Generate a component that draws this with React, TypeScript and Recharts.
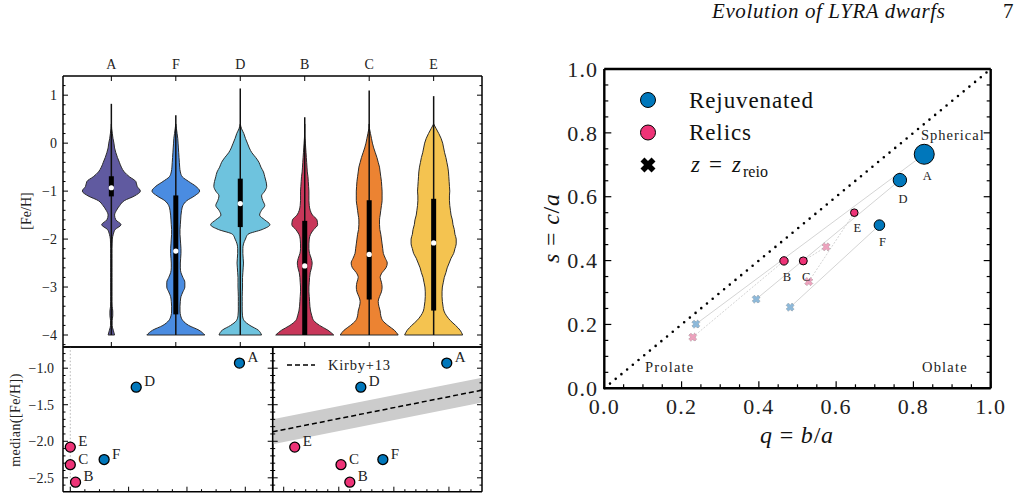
import React from "react";
import { ComposedChart, Area, Line, Scatter, XAxis, YAxis, ReferenceLine, ReferenceDot } from "recharts";

const FONT = "'Liberation Serif', 'DejaVu Serif', serif";
const MINUS = "\u2212";
const BLUE = "#0077bb";
const PINK = "#ee3377";

// Violin panel: order along the top axis
const violinNames = ["A", "F", "D", "B", "C", "E"];
const violinColors = ["#605aa0", "#4a8ce1", "#6ec3de", "#c8375a", "#ec8332", "#f4c350"];

// [Fe/H] levels where the violin outlines are sampled
const fehLevels = [
	-4.0, -3.9, -3.8, -3.7, -3.6, -3.5, -3.4, -3.3, -3.2, -3.1,
	-3.0, -2.9, -2.8, -2.7, -2.6, -2.5, -2.4, -2.3, -2.2, -2.1,
	-2.0, -1.9, -1.8, -1.7, -1.6, -1.5, -1.4, -1.3, -1.2, -1.1,
	-1.0, -0.9, -0.8, -0.7, -0.6, -0.5, -0.4, -0.3, -0.2, -0.1,
	0.0, 0.1, 0.2, 0.3, 0.4,
];

// half widths of each violin at those levels (slot spacing = 1)
const widthA = [
	0.05, 0.03, 0.012, 0.012, 0.022, 0.022, 0.012, 0.01, 0.01, 0.01,
	0.01, 0.01, 0.01, 0.01, 0.01, 0.01, 0.01, 0.01, 0.01, 0.012,
	0.015, 0.03, 0.06, 0.15, 0.07, 0.05, 0.08, 0.13, 0.2, 0.36,
	0.45, 0.4, 0.38, 0.28, 0.2, 0.155, 0.125, 0.095, 0.07, 0.05,
	0.04, 0.025, 0.015, 0.005, 0,
];
const widthF = [
	0.45, 0.36, 0.2, 0.11, 0.075, 0.065, 0.065, 0.07, 0.08, 0.11,
	0.14, 0.14, 0.11, 0.08, 0.07, 0.07, 0.075, 0.08, 0.08, 0.075,
	0.07, 0.065, 0.065, 0.07, 0.075, 0.08, 0.09, 0.11, 0.17, 0.29,
	0.37, 0.31, 0.2, 0.1, 0.07, 0.06, 0.055, 0.05, 0.045, 0.04,
	0.035, 0.03, 0.02, 0.01, 0,
];
const widthD = [
	0.33, 0.28, 0.15, 0.06, 0.035, 0.03, 0.03, 0.03, 0.03, 0.032,
	0.035, 0.035, 0.035, 0.04, 0.045, 0.05, 0.045, 0.04, 0.04, 0.05,
	0.08, 0.12, 0.34, 0.46, 0.38, 0.3, 0.33, 0.38, 0.35, 0.33,
	0.38, 0.41, 0.4, 0.38, 0.36, 0.32, 0.29, 0.24, 0.18, 0.14,
	0.11, 0.08, 0.055, 0.02, 0,
];
const widthB = [
	0.45, 0.36, 0.23, 0.14, 0.11, 0.09, 0.08, 0.075, 0.07, 0.065,
	0.065, 0.07, 0.075, 0.085, 0.105, 0.115, 0.1, 0.075, 0.065, 0.065,
	0.07, 0.09, 0.14, 0.2, 0.19, 0.12, 0.085, 0.07, 0.065, 0.065,
	0.065, 0.06, 0.055, 0.05, 0.04, 0.035, 0.03, 0.025, 0.02, 0.015,
	0.01, 0.005, 0, 0, 0,
];
const widthC = [
	0.45, 0.39, 0.29, 0.21, 0.18, 0.17, 0.15, 0.14, 0.16, 0.19,
	0.2, 0.19, 0.17, 0.2, 0.26, 0.28, 0.25, 0.22, 0.21, 0.2,
	0.19, 0.18, 0.165, 0.16, 0.16, 0.17, 0.18, 0.19, 0.2, 0.2,
	0.2, 0.195, 0.19, 0.18, 0.17, 0.16, 0.14, 0.12, 0.095, 0.07,
	0.05, 0.035, 0.02, 0.005, 0,
];
const widthE = [
	0.45, 0.41, 0.34, 0.26, 0.2, 0.16, 0.145, 0.135, 0.13, 0.13,
	0.135, 0.15, 0.165, 0.19, 0.21, 0.24, 0.27, 0.31, 0.33, 0.35,
	0.35, 0.33, 0.32, 0.3, 0.29, 0.27, 0.26, 0.25, 0.245, 0.245,
	0.25, 0.245, 0.24, 0.235, 0.23, 0.22, 0.205, 0.19, 0.17, 0.155,
	0.14, 0.115, 0.08, 0.04, 0,
];
const violinWidths = [widthA, widthF, widthD, widthB, widthC, widthE];

// whiskers and quartiles, same order as violinNames
const fehMin = [-4.0, -4.0, -4.0, -4.0, -4.0, -4.0];
const fehMax = [0.82, 0.58, 1.14, 0.54, 1.1, 0.98];
const fehQ1 = [-1.11, -3.57, -1.75, -4.0, -3.26, -3.49];
const fehQ3 = [-0.69, -1.09, -0.74, -1.62, -1.19, -1.16];

// per-galaxy summary values
const galaxyNames = ["A", "B", "C", "D", "E", "F"];
const rejuvenatedNames = ["A", "D", "F"];
const medianFeH = [-0.93, -2.56, -2.32, -1.26, -2.08, -2.25];
const xLeft = [2.9, 0.09, 0.0, 1.13, 0.0, 0.58];
const logMstar = [6.98, 6.1, 6.02, 6.2, 5.6, 6.4];
const qFinal = [0.828, 0.465, 0.515, 0.765, 0.647, 0.712];
const sFinal = [0.733, 0.399, 0.399, 0.652, 0.55, 0.511];
const qReio = [0.237, 0.229, 0.574, 0.393, 0.529, 0.481];
const sReio = [0.201, 0.16, 0.443, 0.279, 0.334, 0.254];

// Kirby+13 relation, end points and scatter
const kirbyLogM = [5.4, 7.3];
const kirbyFeH = [-1.87, -1.3];
const kirbyScatter = 0.17;

const markerRadius: Record<string, number> = { A: 10, B: 4.2, C: 4, D: 6.7, E: 3.8, F: 5.3 };

const isRejuv = (n: string) => rejuvenatedNames.includes(n);
const colorOf = (n: string) => (isRejuv(n) ? BLUE : PINK);

const violinRows = fehLevels.map((feh, i) => {
	const row: Record<string, any> = { feh };
	violinNames.forEach((name, k) => {
		row[name] = [k - violinWidths[k][i], k + violinWidths[k][i]];
	});
	return row;
});
const violinMedian = violinNames.map((n) => medianFeH[galaxyNames.indexOf(n)]);

const leftRows = galaxyNames.map((name, i) => ({ name, x: xLeft[i], feh: medianFeH[i] }));
const massRows = galaxyNames.map((name, i) => ({ name, m: logMstar[i], feh: medianFeH[i] }));
const kirbyRows = kirbyLogM.map((m, i) => ({
	m,
	feh: kirbyFeH[i],
	band: [kirbyFeH[i] - kirbyScatter, kirbyFeH[i] + kirbyScatter],
}));
const finalRows = galaxyNames.map((name, i) => ({ name, q: qFinal[i], s: sFinal[i] }));
const reioRows = galaxyNames.map((name, i) => ({ name, q: qReio[i], s: sReio[i] }));

const steps = (from: number, to: number, step: number) => {
	const out: number[] = [];
	const n = Math.round((to - from) / step);
	for (let i = 0; i <= n; i++) out.push(Math.round((from + i * step) * 1000) / 1000);
	return out;
};

const fmt = (digits: number) => (v: number) => (v < 0 ? MINUS : "") + Math.abs(v).toFixed(digits);

type Side = "left" | "right" | "top" | "bottom";
interface TickStyle {
	side: Side;
	major: number;
	majorLen: number;
	minorLen: number;
	label?: (v: number) => string;
	fontSize?: number;
	spacing?: number;
	gap?: number;
	width?: number;
}

const isMultiple = (v: number, step: number) => Math.abs(v / step - Math.round(v / step)) < 1e-6;

// inward pointing ticks, labels only on major ticks
const makeTick = (st: TickStyle) => (props: any) => {
	const { x, y, payload } = props;
	const v = Number(payload.value);
	const major = isMultiple(v, st.major);
	const len = major ? st.majorLen : st.minorLen;
	const dx = st.side === "left" ? len : st.side === "right" ? -len : 0;
	const dy = st.side === "top" ? len : st.side === "bottom" ? -len : 0;
	const gap = st.gap ?? 6;
	const text = { fontSize: st.fontSize ?? 14, fontFamily: FONT, fill: "#222", letterSpacing: st.spacing ?? 0 };
	let label: React.ReactNode = null;
	if (st.label && major) {
		const txt = st.label(v);
		if (st.side === "left")
			label = <text x={x - gap} y={y} dy="0.35em" textAnchor="end" {...text}>{txt}</text>;
		else if (st.side === "right")
			label = <text x={x + gap} y={y} dy="0.35em" textAnchor="start" {...text}>{txt}</text>;
		else if (st.side === "top")
			label = <text x={x} y={y - gap} textAnchor="middle" {...text}>{txt}</text>;
		else
			label = <text x={x} y={y + gap} dy="0.75em" textAnchor="middle" {...text}>{txt}</text>;
	}
	return (
		<g>
			<line x1={x} y1={y} x2={x + dx} y2={y + dy} stroke="#000" strokeWidth={st.width ?? 1} />
			{label}
		</g>
	);
};

const crossPath = (cx: number, cy: number, L: number, w: number) => {
	const pts = [
		[-w, -L], [w, -L], [w, -w], [L, -w], [L, w], [w, w],
		[w, L], [-w, L], [-w, w], [-L, w], [-L, -w], [-w, -w],
	];
	return "M" + pts.map(([a, b]) => `${cx + (a - b) / Math.SQRT2},${cy + (a + b) / Math.SQRT2}`).join("L") + "Z";
};

const noMark = () => <g />;

// circle with its name up and to the right (metallicity panels)
const namedDot = (props: any) => {
	const { cx, cy, payload } = props;
	return (
		<g>
			<circle cx={cx} cy={cy} r={5} fill={colorOf(payload.name)} stroke="#000" strokeWidth={1.3} />
			<text x={cx + 8} y={cy - 1} fontSize={15} fontFamily={FONT} fill="#222">{payload.name}</text>
		</g>
	);
};

// sized circle with its name below (shape panel)
const shapeDot = (props: any) => {
	const { cx, cy, payload } = props;
	const r = markerRadius[payload.name];
	return (
		<g>
			<circle cx={cx} cy={cy} r={r} fill={colorOf(payload.name)} stroke="#000" strokeWidth={1} />
			<text x={cx + 3} y={cy + r + 16} textAnchor="middle" fontSize={12.5} fontFamily={FONT} fill="#222">{payload.name}</text>
		</g>
	);
};

const reioCross = (props: any) => {
	const { cx, cy, payload } = props;
	const fill = isRejuv(payload.name) ? "#8db9da" : "#eda2bd";
	return <path d={crossPath(cx, cy, 4.2, 1.6)} fill={fill} stroke="#8a8a8a" strokeWidth={0.7} strokeDasharray="1 1" />;
};

const frame = { stroke: "#000", strokeWidth: 1.5 };
const thickFrame = { stroke: "#000", strokeWidth: 2.4 };

const violinFehTicks = steps(-4.2, 1.2, 0.2);
const medianTicks = steps(-2.6, -0.8, 0.1);
const leftXTicks = steps(0, 3.25, 0.25);
const massTicks = steps(5.5, 7.2, 0.1);
const unitTicks = steps(0, 1, 0.05);
const catTicks = [0, 1, 2, 3, 4, 5];

const ViolinPanel = () => (
	<ComposedChart layout="vertical" width={500} height={350} data={violinRows} margin={{ top: 46, right: 8, bottom: 0, left: 0 }}>
		<XAxis xAxisId="cat" orientation="top" type="number" domain={[-0.75, 5.75]} allowDataOverflow ticks={catTicks} interval={0} height={30} tickSize={0} tickMargin={0} tickLine={false} axisLine={frame} tick={makeTick({ side: "top", major: 1, majorLen: 5, minorLen: 5, label: (v) => violinNames[v], gap: 7.5, fontSize: 14 })} />
		<XAxis xAxisId="catB" orientation="bottom" type="number" domain={[-0.75, 5.75]} allowDataOverflow ticks={catTicks} interval={0} height={3} tickSize={0} tickMargin={0} tickLine={false} axisLine={frame} tick={makeTick({ side: "bottom", major: 1, majorLen: 5, minorLen: 5 })} />
		<YAxis yAxisId="feh" type="number" dataKey="feh" reversed domain={[-4.25, 1.4]} allowDataOverflow ticks={violinFehTicks} interval={0} width={63} tickSize={0} tickMargin={0} tickLine={false} axisLine={frame} tick={makeTick({ side: "left", major: 1, majorLen: 5, minorLen: 2.5, label: fmt(0), gap: 6, fontSize: 14 })} />
		<YAxis yAxisId="fehR" orientation="right" type="number" dataKey="feh" reversed domain={[-4.25, 1.4]} allowDataOverflow ticks={violinFehTicks} interval={0} width={10} tickSize={0} tickMargin={0} tickLine={false} axisLine={frame} tick={makeTick({ side: "right", major: 1, majorLen: 5, minorLen: 2.5 })} />
		{violinNames.map((name, k) => (
			<Area key={name} xAxisId="cat" yAxisId="feh" dataKey={name} type="monotone" fill={violinColors[k]} fillOpacity={1} stroke="#2b2b2b" strokeWidth={1} dot={false} activeDot={false} isAnimationActive={false} />
		))}
		{/* flat bottom edge of each violin at the lowest sampled level */}
		{violinNames.map((name, k) => (
			<ReferenceLine key={"base" + name} xAxisId="cat" yAxisId="feh" segment={[{ x: k - violinWidths[k][0], y: fehLevels[0] }, { x: k + violinWidths[k][0], y: fehLevels[0] }]} stroke="#2b2b2b" strokeWidth={1} />
		))}
		{violinNames.map((name, k) => (
			<ReferenceLine key={"w" + name} xAxisId="cat" yAxisId="feh" segment={[{ x: k, y: fehMin[k] }, { x: k, y: fehMax[k] }]} stroke="#111" strokeWidth={1.5} />
		))}
		{violinNames.map((name, k) => (
			<ReferenceLine key={"q" + name} xAxisId="cat" yAxisId="feh" segment={[{ x: k, y: fehQ1[k] }, { x: k, y: fehQ3[k] }]} stroke="#000" strokeWidth={5} />
		))}
		{violinNames.map((name, k) => (
			<ReferenceDot key={"m" + name} xAxisId="cat" yAxisId="feh" x={k} y={violinMedian[k]} r={2.6} fill="#fff" stroke="none" />
		))}
	</ComposedChart>
);

const medianAxesY = (leftLabels: boolean) => [
	<YAxis key="yl" yAxisId="l" type="number" dataKey="feh" domain={[-2.69, -0.71]} allowDataOverflow ticks={medianTicks} interval={0} width={leftLabels ? 63 : 12.7} tickSize={0} tickMargin={0} tickLine={false} axisLine={frame} tick={makeTick({ side: "left", major: 0.5, majorLen: 5, minorLen: 2.5, label: leftLabels ? fmt(1) : undefined, gap: 9, fontSize: 14 })} />,
	<YAxis key="yr" yAxisId="r" orientation="right" type="number" domain={[-2.69, -0.71]} allowDataOverflow ticks={medianTicks} interval={0} width={1} tickSize={0} tickMargin={0} tickLine={false} axisLine={frame} tick={makeTick({ side: "right", major: 0.5, majorLen: 5, minorLen: 2.5 })} />,
];

const LeftMedianPanel = () => (
	<ComposedChart width={280} height={158} margin={{ top: 6, right: 6.3, bottom: 5.3, left: 0 }}>
		<XAxis xAxisId="b" dataKey="x" type="number" domain={[-0.125, 3.47]} allowDataOverflow ticks={leftXTicks} interval={0} height={1} tickSize={0} tickMargin={0} tickLine={false} axisLine={frame} tick={makeTick({ side: "bottom", major: 1, majorLen: 5, minorLen: 2.5 })} />
		<XAxis xAxisId="t" orientation="top" type="number" domain={[-0.125, 3.47]} allowDataOverflow ticks={leftXTicks} interval={0} height={1} tickSize={0} tickMargin={0} tickLine={false} axisLine={frame} tick={makeTick({ side: "top", major: 1, majorLen: 5, minorLen: 2.5 })} />
		{medianAxesY(true)}
		<ReferenceLine xAxisId="b" yAxisId="l" x={0} stroke="#b5b5b5" strokeWidth={1} strokeDasharray="1.5 2" />
		<Scatter xAxisId="b" yAxisId="l" data={leftRows} shape={namedDot} isAnimationActive={false} />
	</ComposedChart>
);

const MassMedianPanel = () => (
	<ComposedChart width={240} height={158} data={kirbyRows} margin={{ top: 6, right: 17, bottom: 5.3, left: 0 }}>
		<XAxis xAxisId="b" dataKey="m" type="number" domain={[5.4, 7.3]} allowDataOverflow ticks={massTicks} interval={0} height={1} tickSize={0} tickMargin={0} tickLine={false} axisLine={frame} tick={makeTick({ side: "bottom", major: 0.5, majorLen: 5, minorLen: 2.5 })} />
		<XAxis xAxisId="t" orientation="top" type="number" domain={[5.4, 7.3]} allowDataOverflow ticks={massTicks} interval={0} height={1} tickSize={0} tickMargin={0} tickLine={false} axisLine={frame} tick={makeTick({ side: "top", major: 0.5, majorLen: 5, minorLen: 2.5 })} />
		{medianAxesY(false)}
		<Area xAxisId="b" yAxisId="l" dataKey="band" type="linear" fill="#cccccc" fillOpacity={1} stroke="none" dot={false} activeDot={false} isAnimationActive={false} />
		<Line xAxisId="b" yAxisId="l" dataKey="feh" type="linear" stroke="#000" strokeWidth={1.5} strokeDasharray="5 3" dot={false} activeDot={false} isAnimationActive={false} />
		<Scatter xAxisId="b" yAxisId="l" data={massRows} shape={namedDot} isAnimationActive={false} />
	</ComposedChart>
);

const unitTick = (side: Side, withLabel: boolean) =>
	makeTick({ side, major: 0.2, majorLen: 7, minorLen: 4, width: 1.2, label: withLabel ? fmt(1) : undefined, fontSize: 22, spacing: 1.2, gap: side === "bottom" ? 9 : 6 });

const ShapePanel = () => (
	<ComposedChart width={499} height={458} margin={{ top: 28, right: 27.3, bottom: 49.7, left: 0 }}>
		<XAxis xAxisId="b" dataKey="q" type="number" domain={[0, 1]} allowDataOverflow ticks={unitTicks} interval={0} height={60} tickSize={0} tickMargin={0} tickLine={false} axisLine={thickFrame} tick={unitTick("bottom", true)} />
		<XAxis xAxisId="t" orientation="top" type="number" domain={[0, 1]} allowDataOverflow ticks={unitTicks} interval={0} height={1} tickSize={0} tickMargin={0} tickLine={false} axisLine={thickFrame} tick={unitTick("top", false)} />
		<YAxis yAxisId="l" dataKey="s" type="number" domain={[0, 1]} allowDataOverflow ticks={unitTicks} interval={0} width={84.3} tickSize={0} tickMargin={0} tickLine={false} axisLine={thickFrame} tick={unitTick("left", true)} />
		<YAxis yAxisId="r" orientation="right" type="number" domain={[0, 1]} allowDataOverflow ticks={unitTicks} interval={0} width={1} tickSize={0} tickMargin={0} tickLine={false} axisLine={thickFrame} tick={unitTick("right", false)} />
		{galaxyNames.map((name, i) => (
			<Scatter
				key={"path" + name}
				xAxisId="b"
				yAxisId="l"
				data={[reioRows[i], finalRows[i]]}
				line={{ stroke: "#cfcfcf", strokeWidth: 0.9, strokeDasharray: isRejuv(name) ? undefined : "2 1.5" }}
				shape={noMark}
				isAnimationActive={false}
			/>
		))}
		<ReferenceLine xAxisId="b" yAxisId="l" segment={[{ x: 0, y: 0 }, { x: 1, y: 1 }]} stroke="#000" strokeWidth={2.6} strokeDasharray="0 7.4" strokeLinecap="round" ifOverflow="visible" />
		<Scatter xAxisId="b" yAxisId="l" data={reioRows} shape={reioCross} isAnimationActive={false} />
		<Scatter xAxisId="b" yAxisId="l" data={finalRows} shape={shapeDot} isAnimationActive={false} />
	</ComposedChart>
);

const Overlay = () => (
	<svg width={1019} height={498} style={{ position: "absolute", left: 0, top: 0, pointerEvents: "none" }} fontFamily={FONT}>
		<text x={712} y={18} fontSize={21} letterSpacing={0.6} fontStyle="italic" fill="#111">Evolution of LYRA dwarfs</text>
		<text x={1003} y={18} fontSize={21} fill="#111">7</text>

		<text transform="translate(31,211) rotate(-90)" textAnchor="middle" fontSize={14} fill="#222">[Fe/H]</text>
		<text transform="translate(20,420) rotate(-90)" textAnchor="middle" fontSize={14} letterSpacing={0.4} fill="#222">median([Fe/H])</text>

		<line x1={287} x2={315} y1={365} y2={365} stroke="#000" strokeWidth={1.5} strokeDasharray="5 3" />
		<text x={328} y={370} fontSize={14.5} letterSpacing={0.8} fill="#222">Kirby+13</text>

		<circle cx={648} cy={100} r={7.5} fill={BLUE} stroke="#000" strokeWidth={1} />
		<text x={689} y={107.5} fontSize={23} letterSpacing={0.9} fill="#111">Rejuvenated</text>
		<circle cx={648} cy={132.5} r={7.5} fill={PINK} stroke="#000" strokeWidth={1} />
		<text x={689} y={140} fontSize={23} letterSpacing={0.9} fill="#111">Relics</text>
		<path d={crossPath(648, 165, 7.8, 2.8)} fill="#000" />
		<text y={172} fontSize={23} fill="#111">
			<tspan x={691} fontStyle="italic">z</tspan>
			<tspan x={709}>=</tspan>
			<tspan x={732} fontStyle="italic">z</tspan>
			<tspan x={743} dy={5} fontSize={16}>reio</tspan>
		</text>

		<text x={921} y={140} fontSize={14.5} letterSpacing={1} fill="#222">Spherical</text>
		<text x={645} y={372} fontSize={14.5} letterSpacing={1.2} fill="#222">Prolate</text>
		<text x={922} y={372} fontSize={14.5} letterSpacing={1.2} fill="#222">Oblate</text>

		<text transform="translate(559,228) rotate(-90)" textAnchor="middle" fontSize={24} letterSpacing={0.8} fill="#111">
			<tspan fontStyle="italic">s</tspan> = <tspan fontStyle="italic">c</tspan>/<tspan fontStyle="italic">a</tspan>
		</text>
		<text x={797} y={443} textAnchor="middle" fontSize={24} letterSpacing={0.8} fill="#111">
			<tspan fontStyle="italic">q</tspan> = <tspan fontStyle="italic">b</tspan>/<tspan fontStyle="italic">a</tspan>
		</text>
	</svg>
);

const App = () => (
	<div style={{ position: "absolute", left: 0, top: 0, width: 1019, height: 498, background: "#fff", overflow: "hidden" }}>
		<div style={{ position: "absolute", left: 0, top: 0 }}>
			<ViolinPanel />
		</div>
		<div style={{ position: "absolute", left: 0, top: 340 }}>
			<LeftMedianPanel />
		</div>
		<div style={{ position: "absolute", left: 260, top: 340 }}>
			<MassMedianPanel />
		</div>
		<div style={{ position: "absolute", left: 520, top: 40 }}>
			<ShapePanel />
		</div>
		<Overlay />
	</div>
);

export default App;
